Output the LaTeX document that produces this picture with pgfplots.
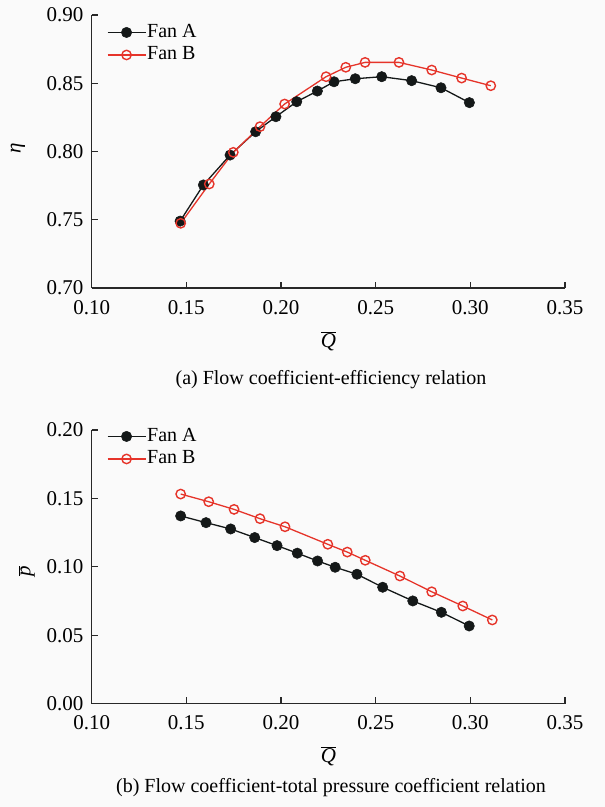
\documentclass[border=0pt]{standalone}
\usepackage{pgfplots}
\pgfplotsset{compat=1.18}
\usepackage{fontspec}
\setmainfont{Liberation Serif}
\definecolor{fanred}{RGB}{230,52,42}
\definecolor{fanblack}{RGB}{20,24,24}
\definecolor{axgray}{RGB}{40,40,40}
\definecolor{bg}{RGB}{250,250,250}

\pgfplotstableread{
x y
0.1467 0.7490
0.1590 0.7755
0.1731 0.7974
0.1866 0.8145
0.1973 0.8255
0.2083 0.8365
0.2192 0.8443
0.2280 0.8511
0.2392 0.8533
0.2532 0.8548
0.2690 0.8519
0.2845 0.8467
0.2995 0.8358
}\etaA
\pgfplotstableread{
x y
0.1470 0.7474
0.1621 0.7762
0.1748 0.7994
0.1889 0.8182
0.2019 0.8348
0.2238 0.8548
0.2342 0.8617
0.2444 0.8653
0.2623 0.8653
0.2796 0.8597
0.2954 0.8538
0.3108 0.8482
}\etaB
\pgfplotstableread{
x y
0.1470 0.1372
0.1604 0.1323
0.1734 0.1277
0.1861 0.1214
0.1979 0.1155
0.2086 0.1100
0.2193 0.1043
0.2286 0.0997
0.2401 0.0946
0.2537 0.0851
0.2696 0.0751
0.2847 0.0668
0.2994 0.0568
}\pA
\pgfplotstableread{
x y
0.1470 0.1532
0.1618 0.1476
0.1752 0.1420
0.1889 0.1352
0.2021 0.1293
0.2247 0.1165
0.2350 0.1108
0.2445 0.1048
0.2628 0.0933
0.2796 0.0818
0.2960 0.0714
0.3116 0.0612
}\pB

\pgfplotsset{
  myaxis/.style={
    scale only axis,
    width=473.3pt, height=273pt,
    anchor=south west,
    axis lines=left,
    axis line style={-, axgray, line width=1.1pt},
    tick align=inside,
    major tick length=6.5pt,
    every tick/.style={axgray, line width=1.1pt},
    xmin=0.10, xmax=0.35,
    xtick={0.10,0.15,0.20,0.25,0.30,0.35},
    xticklabels={0.10,0.15,0.20,0.25,0.30,0.35},
    tick label style={font=\fontsize{21}{23}\selectfont, inner sep=0pt},
    xticklabel style={anchor=north, yshift=-12pt},
    yticklabel style={anchor=east, xshift=-8pt},
    xlabel={$\overline{\textit{Q}}$},
    x label style={at={(axis description cs:0.5,0)}, anchor=north, inner sep=0pt, yshift=-43pt, font=\fontsize{21}{23}\selectfont},
    clip=false,
    legend cell align=left,
    legend image code/.code={\draw[mark repeat=2,mark phase=2,##1] plot coordinates {(0pt,0pt) (19pt,0pt) (38pt,0pt)};},
    legend style={draw=none, fill=none, inner xsep=0pt, inner ysep=0pt,
      font=\fontsize{20}{22}\selectfont,
      nodes={inner sep=1pt, text height=15pt, text depth=5.5pt},
      row sep=0pt},
  },
  serA/.style={fanblack, line width=1.3pt, mark=*, mark size=5.2pt, mark options={fill=fanblack, draw=fanblack, line width=0.5pt}},
  serB/.style={fanred, line width=1.3pt, mark=o, mark size=4.7pt, mark options={draw=fanred, fill=bg, line width=1.4pt}},
}

\begin{document}
\begin{tikzpicture}[x=1pt,y=1pt]
\useasboundingbox (0,0) rectangle (605,-807);
\fill[bg] (0,0) rectangle (605,-807);

\begin{axis}[myaxis,
  at={(91.7pt,-288pt)},
  ymin=0.70, ymax=0.90,
  ytick={0.70,0.75,0.80,0.85,0.90},
  yticklabels={0.70,0.75,0.80,0.85,0.90},
  ylabel={\textit{η}},
  y label style={at={(axis description cs:0,0.5)}, anchor=center, yshift=73.7pt, xshift=3pt, font=\fontsize{21}{23}\selectfont},
  legend style={at={(axis description cs:0,1)}, anchor=north west, xshift=15pt, yshift=-6pt},
]
\addplot[serA] table[x=x,y=y] {\etaA};
\addlegendentry{Fan A}
\addplot[serB] table[x=x,y=y] {\etaB};
\addlegendentry{Fan B}
\end{axis}

\begin{axis}[myaxis,
  at={(91.7pt,-703.7pt)},
  height=273.7pt,
  ymin=0, ymax=0.20,
  ytick={0,0.05,0.10,0.15,0.20},
  yticklabels={0.00,0.05,0.10,0.15,0.20},
  ylabel={$\overline{\textit{p}}$},
  y label style={at={(axis description cs:0,0.5)}, anchor=center, yshift=65pt, xshift=-4pt, font=\fontsize{21}{23}\selectfont},
  legend style={at={(axis description cs:0,1)}, anchor=north west, xshift=15pt, yshift=5pt},
]
\addplot[serA] table[x=x,y=y] {\pA};
\addlegendentry{Fan A}
\addplot[serB] table[x=x,y=y] {\pB};
\addlegendentry{Fan B}
\end{axis}

\node[anchor=base, font=\fontsize{20}{22}\selectfont] at (331,-384) {(a) Flow coefficient-efficiency relation};
\node[anchor=base, font=\fontsize{20}{22}\selectfont] at (331,-792) {(b) Flow coefficient-total pressure coefficient relation};
\end{tikzpicture}
\end{document}
